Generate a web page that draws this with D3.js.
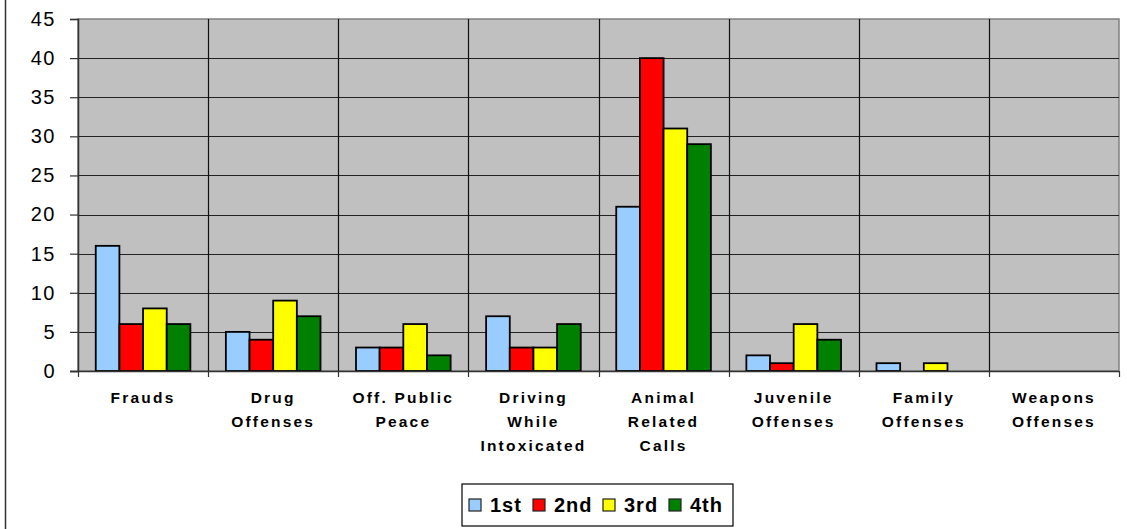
<!DOCTYPE html>
<html>
<head>
<meta charset="utf-8">
<script src="https://cdn.jsdelivr.net/npm/d3@7"></script>
<style>
  body { margin: 0; background: #fff; }
  svg { display: block; font-family: Arial, "Liberation Sans", sans-serif; }
</style>
</head>
<body>
<div id="chart"></div>
<script>
// categories (label lines) and series values
var categories = [
    ["Frauds"],
    ["Drug", "Offenses"],
    ["Off. Public", "Peace"],
    ["Driving", "While", "Intoxicated"],
    ["Animal", "Related", "Calls"],
    ["Juvenile", "Offenses"],
    ["Family", "Offenses"],
    ["Weapons", "Offenses"]
];
var seriesNames = ["1st", "2nd", "3rd", "4th"];
var seriesColors = ["#99CCFF", "#FF0000", "#FFFF00", "#008000"];
var q1 = [16, 5, 3, 7, 21, 2, 1, 0];
var q2 = [6, 4, 3, 3, 40, 1, 0, 0];
var q3 = [8, 9, 6, 3, 31, 6, 1, 0];
var q4 = [6, 7, 2, 6, 29, 4, 0, 0];
var yTicks = [0, 5, 10, 15, 20, 25, 30, 35, 40, 45];

var series = [q1, q2, q3, q4];

var fullwidth = 1127, fullheight = 529;
var margin = {top: 19, left: 78, right: 8, bottom: 158};
var width = fullwidth - margin.left - margin.right,
    height = fullheight - margin.top - margin.bottom;

var svg = d3.select("#chart").append("svg")
    .attr("width", fullwidth)
    .attr("height", fullheight);

// outer frame (only left edge visible)
svg.append("line")
    .attr("x1", 5.5).attr("x2", 5.5)
    .attr("y1", 0).attr("y2", fullheight)
    .attr("stroke", "#333").attr("stroke-width", 1.5);

var g = svg.append("g")
    .attr("transform", "translate(" + margin.left + "," + margin.top + ")");

var xScale = d3.scaleBand()
    .domain(d3.range(categories.length))
    .range([0, width]);

// excel style: gap width 150% -> inner band with 4 bars
var barW = xScale.bandwidth() / 5.5;
var xInner = d3.scaleBand()
    .domain(d3.range(series.length))
    .range([barW * 0.75, barW * 0.75 + barW * 4]);

var yScale = d3.scaleLinear()
    .domain([0, 45])
    .range([height, 0]);

// plot background
g.append("rect")
    .attr("width", width).attr("height", height)
    .attr("fill", "#C0C0C0")
    .attr("stroke", "#808080").attr("stroke-width", 1.5);

// horizontal grid
g.selectAll(".hgrid")
    .data(yTicks.slice(1, -1))
    .enter().append("line")
    .attr("x1", 0).attr("x2", width)
    .attr("y1", d => Math.round(yScale(d)) + 0.5)
    .attr("y2", d => Math.round(yScale(d)) + 0.5)
    .attr("stroke", "#222").attr("stroke-width", 1.2);

// vertical grid at category boundaries
g.selectAll(".vgrid")
    .data(d3.range(1, categories.length))
    .enter().append("line")
    .attr("x1", d => Math.round(xScale(d)) + 0.5)
    .attr("x2", d => Math.round(xScale(d)) + 0.5)
    .attr("y1", 0).attr("y2", height)
    .attr("stroke", "#111").attr("stroke-width", 1.2);

// bars
series.forEach(function(values, si) {
    g.selectAll(".bar" + si)
        .data(values)
        .enter().append("rect")
        .filter(d => d > 0)
        .attr("x", (d, i) => xScale(i) + xInner(si))
        .attr("y", d => yScale(d))
        .attr("width", xInner.bandwidth())
        .attr("height", d => height - yScale(d))
        .attr("fill", seriesColors[si])
        .attr("stroke", "#000").attr("stroke-width", 1.8);
});

// y axis
var yAxis = d3.axisLeft(yScale)
    .tickValues(yTicks)
    .tickSize(8)
    .tickPadding(14);
var ya = g.append("g").call(yAxis);
ya.select(".domain").attr("stroke", "#333").attr("stroke-width", 1.5);
ya.selectAll(".tick line").attr("stroke", "#333").attr("stroke-width", 1.2);
ya.selectAll(".tick text")
    .attr("font-size", 20).attr("fill", "#000")
    .attr("letter-spacing", 1.5)
    .attr("font-family", "Arial, 'Liberation Sans', sans-serif");

// x axis line + ticks at boundaries
g.append("line")
    .attr("x1", -8).attr("x2", width)
    .attr("y1", height + 0.5).attr("y2", height + 0.5)
    .attr("stroke", "#333").attr("stroke-width", 1.5);
g.selectAll(".xtick")
    .data(d3.range(0, categories.length + 1))
    .enter().append("line")
    .attr("x1", d => Math.round(xScale(d) === undefined ? width : xScale(d)) + 0.5)
    .attr("x2", d => Math.round(xScale(d) === undefined ? width : xScale(d)) + 0.5)
    .attr("y1", height).attr("y2", height + 6)
    .attr("stroke", "#333").attr("stroke-width", 1.2);

// category labels
categories.forEach(function(lines, i) {
    var t = g.append("text")
        .attr("x", xScale(i) + xScale.bandwidth() / 2)
        .attr("y", height + 32)
        .attr("text-anchor", "middle")
        .attr("font-size", 15.5)
        .attr("font-weight", "bold")
        .attr("letter-spacing", 2.2)
        .attr("fill", "#000");
    lines.forEach(function(line, j) {
        t.append("tspan")
            .attr("x", xScale(i) + xScale.bandwidth() / 2)
            .attr("dy", j == 0 ? 0 : 24)
            .text(line);
    });
});

// legend
var legend = svg.append("g").attr("transform", "translate(462,484)");
legend.append("rect")
    .attr("width", 271).attr("height", 42)
    .attr("fill", "#fff").attr("stroke", "#000").attr("stroke-width", 1.2);
var legendX = [7, 71, 141, 207];
seriesNames.forEach(function(name, i) {
    legend.append("rect")
        .attr("x", legendX[i]).attr("y", 15)
        .attr("width", 12).attr("height", 12)
        .attr("fill", seriesColors[i])
        .attr("stroke", "#222").attr("stroke-width", 1.2);
    legend.append("text")
        .attr("x", legendX[i] + 21).attr("y", 28)
        .attr("font-size", 20).attr("font-weight", "bold")
        .attr("letter-spacing", 1)
        .attr("fill", "#000")
        .text(name);
});
</script>
</body>
</html>
